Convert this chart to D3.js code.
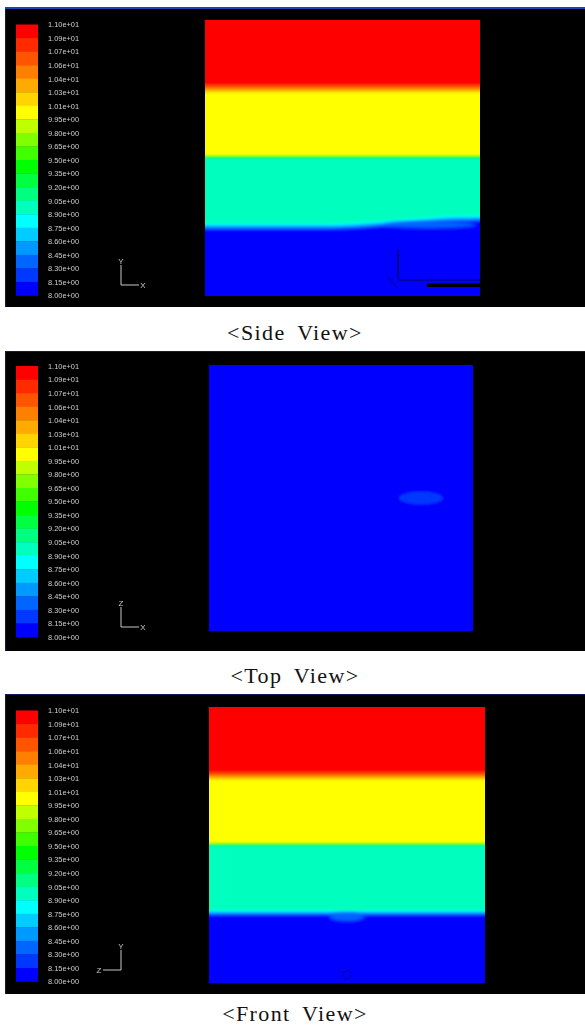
<!DOCTYPE html>
<html><head><meta charset="utf-8">
<script src="https://cdn.jsdelivr.net/npm/d3@7"></script>
<style>html,body{margin:0;padding:0;background:#fff;}svg{display:block;}</style>
</head><body>
<script>
// Contour levels of the colour bar, top to bottom, and their printed labels
const levels = [11.00, 10.85, 10.70, 10.55, 10.40, 10.25, 10.10, 9.95, 9.80, 9.65, 9.50,
                9.35, 9.20, 9.05, 8.90, 8.75, 8.60, 8.45, 8.30, 8.15, 8.00];
const levelLabels = ["1.10e+01","1.09e+01","1.07e+01","1.06e+01","1.04e+01","1.03e+01","1.01e+01",
                     "9.95e+00","9.80e+00","9.65e+00","9.50e+00","9.35e+00","9.20e+00","9.05e+00",
                     "8.90e+00","8.75e+00","8.60e+00","8.45e+00","8.30e+00","8.15e+00","8.00e+00"];

// One colour per band between consecutive levels (rainbow map)
const bandColors = ["#ff0000","#ff2a00","#ff5500","#ff7f00","#ffaa00","#ffd400","#ffff00",
                    "#bfff00","#80ff00","#40ff00","#00ff00","#00ff40","#00ff80","#00ffbf",
                    "#00ffff","#00ccff","#0099ff","#0066ff","#0038ff","#0000ff"];

const viewTitles = ["<Side View>", "<Top View>", "<Front View>"];

// Stratified layers, bottom to top (value of each layer)
const sideLayers  = [8.0, 9.0, 10.0, 11.0];
const frontLayers = [8.0, 9.0, 10.0, 11.0];
const topLayers   = [8.0];

// Interfaces between layers: [x fraction, height fraction] profile points
const sideInterfaces = [
  [[0,0.250],[0.45,0.250],[0.60,0.257],[0.75,0.268],[0.90,0.278],[1,0.280]],
  [[0,0.505],[1,0.505]],
  [[0,0.752],[1,0.752]]
];
const sideInterfaceThickness = [0.024, 0.012, 0.032];

const frontInterfaces = [
  [[0,0.253],[1,0.253]],
  [[0,0.503],[1,0.503]],
  [[0,0.751],[1,0.751]]
];
const frontInterfaceThickness = [0.020, 0.012, 0.030];

// Local patches of mixed fluid: centre (x, height), radii, value
const sidePatches  = [{x: 0.82, h: 0.258, rx: 0.17, ry: 0.013, v: 8.40}];
const topPatches   = [{x: 0.803, h: 0.500, rx: 0.083, ry: 0.024, v: 8.25}];
const frontPatches = [{x: 0.500, h: 0.240, rx: 0.065, ry: 0.016, v: 8.35}];

// Pipe outline drawn in the side view (tank coordinates)
const sideOutline = [
  {x1: 0.702, h1: 0.168, x2: 0.702, h2: 0.063, w: 1.2, c: "#00003a"},
  {x1: 0.702, h1: 0.058, x2: 1.000, h2: 0.058, w: 1.2, c: "#000045"},
  {x1: 0.807, h1: 0.040, x2: 1.000, h2: 0.040, w: 4,   c: "#000000"},
  {x1: 0.665, h1: 0.068, x2: 0.700, h2: 0.030, w: 1,   c: "#000060"}
];
const frontMarkers = [{x: 0.500, h: 0.030, r: 4}];

const W = 585, H = 1030;
const svg = d3.select("body").append("svg").attr("width", W).attr("height", H);
svg.append("rect").attr("width", W).attr("height", H).attr("fill", "#fff");

const defs = svg.append("defs");
defs.append("filter").attr("id", "soft").attr("x", "-5%").attr("y", "-5%")
  .attr("width", "110%").attr("height", "110%")
  .append("feGaussianBlur").attr("stdDeviation", 0.8);
defs.append("filter").attr("id", "softer")
  .append("feGaussianBlur").attr("stdDeviation", 1.4);
defs.append("filter").attr("id", "txt")
  .append("feGaussianBlur").attr("stdDeviation", 0.25);

// value -> band index -> colour
const negLevels = levels.map(l => -l);
const bandIndex = v => Math.max(0, Math.min(bandColors.length - 1, d3.bisectRight(negLevels, -v) - 1));
const colorOf = v => bandColors[bandIndex(v)];

const panels = [
  {title: viewTitles[0], top: 9,   bottom: 307, plot: [205, 480, 20, 296],  legendTop: 24.5,
   layers: sideLayers, interfaces: sideInterfaces, thick: sideInterfaceThickness,
   patches: sidePatches, outline: sideOutline, markers: [],
   triad: {ox: 121, oy: 285, up: "Y", side: "X", dir: 1}, caption: 340, border: "top"},
  {title: viewTitles[1], top: 351, bottom: 651, plot: [209, 473, 365, 631], legendTop: 366,
   layers: topLayers, interfaces: [], thick: [],
   patches: topPatches, outline: [], markers: [],
   triad: {ox: 121, oy: 627, up: "Z", side: "X", dir: 1}, caption: 683},
  {title: viewTitles[2], top: 694, bottom: 994, plot: [209, 485, 707, 983], legendTop: 710.5,
   layers: frontLayers, interfaces: frontInterfaces, thick: frontInterfaceThickness,
   patches: frontPatches, outline: [], markers: frontMarkers,
   triad: {ox: 121, oy: 970, up: "Y", side: "Z", dir: -1}, caption: 1021}
];

const legendStep = 13.55;

panels.forEach((p, pi) => {
  const g = svg.append("g");
  // black viewport
  g.append("rect").attr("x", 5).attr("y", p.top).attr("width", W - 5).attr("height", p.bottom - p.top)
    .attr("fill", "#000");
  g.append("line").attr("x1", 5.5).attr("x2", 5.5).attr("y1", p.top).attr("y2", p.bottom)
    .attr("stroke", "#0c1a5a").attr("stroke-width", 1);
  if (p.border === "top") {
    g.append("rect").attr("x", 5).attr("y", p.top - 2).attr("width", W - 5).attr("height", 2)
      .attr("fill", "#1a44b4");
  } else {
    g.append("line").attr("x1", 5).attr("x2", W).attr("y1", p.top + 0.5).attr("y2", p.top + 0.5)
      .attr("stroke", "#0c1a5a").attr("stroke-width", 1);
  }

  // ---- colour bar ----
  const ly = d3.scaleLinear().domain([levels[0], levels[levels.length - 1]])
    .range([p.legendTop, p.legendTop + legendStep * (levels.length - 1)]);
  const lg = g.append("g");
  lg.selectAll("rect.band").data(bandColors).join("rect")
    .attr("x", 16).attr("width", 22)
    .attr("y", (c, i) => ly(levels[i]))
    .attr("height", (c, i) => ly(levels[i + 1]) - ly(levels[i]) + 0.3)
    .attr("fill", c => c);
  const axis = d3.axisRight(ly).tickValues(levels)
    .tickFormat((d, i) => levelLabels[i]).tickSize(0).tickPadding(10);
  const ax = lg.append("g").attr("transform", "translate(38,0)").call(axis);
  ax.select(".domain").remove();
  ax.selectAll("text").attr("fill", "#d0d0d0").attr("font-family", "Liberation Sans, Arial, sans-serif")
    .attr("font-size", 7.4).attr("filter", "url(#txt)");

  // ---- scalar field ----
  const [x0, x1, y0, y1] = p.plot;
  const xs = d3.scaleLinear().domain([0, 1]).range([x0, x1]);
  const ys = d3.scaleLinear().domain([0, 1]).range([y1, y0]);
  const clipId = "clip" + pi;
  defs.append("clipPath").attr("id", clipId).append("rect")
    .attr("x", x0).attr("y", y0).attr("width", x1 - x0).attr("height", y1 - y0);
  const fg = g.append("g").attr("clip-path", `url(#${clipId})`).append("g").attr("filter", "url(#soft)");

  fg.append("rect").attr("x", x0 - 4).attr("y", y0 - 4).attr("width", x1 - x0 + 8).attr("height", y1 - y0 + 8)
    .attr("fill", colorOf(p.layers[0]));

  p.interfaces.forEach((prof, k) => {
    const below = bandIndex(p.layers[k]);
    const above = bandIndex(p.layers[k + 1]);
    const n = below - above;
    const w = p.thick[k];
    const pts = prof.map(d => [d[0] < 0.001 ? -0.05 : d[0] > 0.999 ? 1.05 : d[0], d[1]]);
    for (let j = 1; j <= n; j++) {
      const off = n > 1 ? -w / 2 + (j - 1) * w / (n - 1) : 0;
      const area = d3.area().curve(d3.curveMonotoneX)
        .x(d => xs(d[0])).y0(ys(1.05)).y1(d => ys(d[1] + off));
      fg.append("path").attr("d", area(pts)).attr("fill", bandColors[below - j]);
    }
  });

  p.patches.forEach(pt => {
    fg.append("ellipse").attr("cx", xs(pt.x)).attr("cy", ys(pt.h))
      .attr("rx", xs(pt.rx) - xs(0)).attr("ry", ys(0) - ys(pt.ry))
      .attr("fill", colorOf(pt.v))
      .attr("filter", pi === 1 ? null : "url(#softer)");
  });

  p.outline.forEach(s => {
    g.append("line").attr("clip-path", `url(#${clipId})`)
      .attr("x1", xs(s.x1)).attr("y1", ys(s.h1)).attr("x2", xs(s.x2)).attr("y2", ys(s.h2))
      .attr("stroke", s.c).attr("stroke-width", s.w);
  });
  p.markers.forEach(m => {
    g.append("circle").attr("cx", xs(m.x)).attr("cy", ys(m.h)).attr("r", m.r)
      .attr("fill", "none").attr("stroke", "#000050").attr("stroke-width", 1)
      .attr("stroke-dasharray", "2,1.5");
  });

  // ---- axis triad ----
  const t = p.triad;
  const tg = g.append("g").attr("stroke", "#c8c8c8").attr("stroke-width", 1).attr("filter", "url(#txt)");
  tg.append("line").attr("x1", t.ox).attr("y1", t.oy).attr("x2", t.ox).attr("y2", t.oy - 20);
  tg.append("line").attr("x1", t.ox).attr("y1", t.oy).attr("x2", t.ox + 18 * t.dir).attr("y2", t.oy);
  const tt = g.append("g").attr("fill", "#c8c8c8").attr("font-family", "Liberation Sans, Arial, sans-serif")
    .attr("font-size", 8).attr("text-anchor", "middle").attr("filter", "url(#txt)");
  tt.append("text").attr("x", t.ox).attr("y", t.oy - 21).text(t.up);
  tt.append("text").attr("x", t.ox + 22 * t.dir).attr("y", t.oy + 3).text(t.side);

  // ---- caption ----
  svg.append("text").attr("x", 295).attr("y", p.caption).attr("text-anchor", "middle")
    .attr("font-family", "Liberation Serif, Times New Roman, serif").attr("font-size", 22)
    .attr("fill", "#111").attr("letter-spacing", 1.4).attr("word-spacing", 5)
    .text(p.title);
});
</script>
</body></html>
